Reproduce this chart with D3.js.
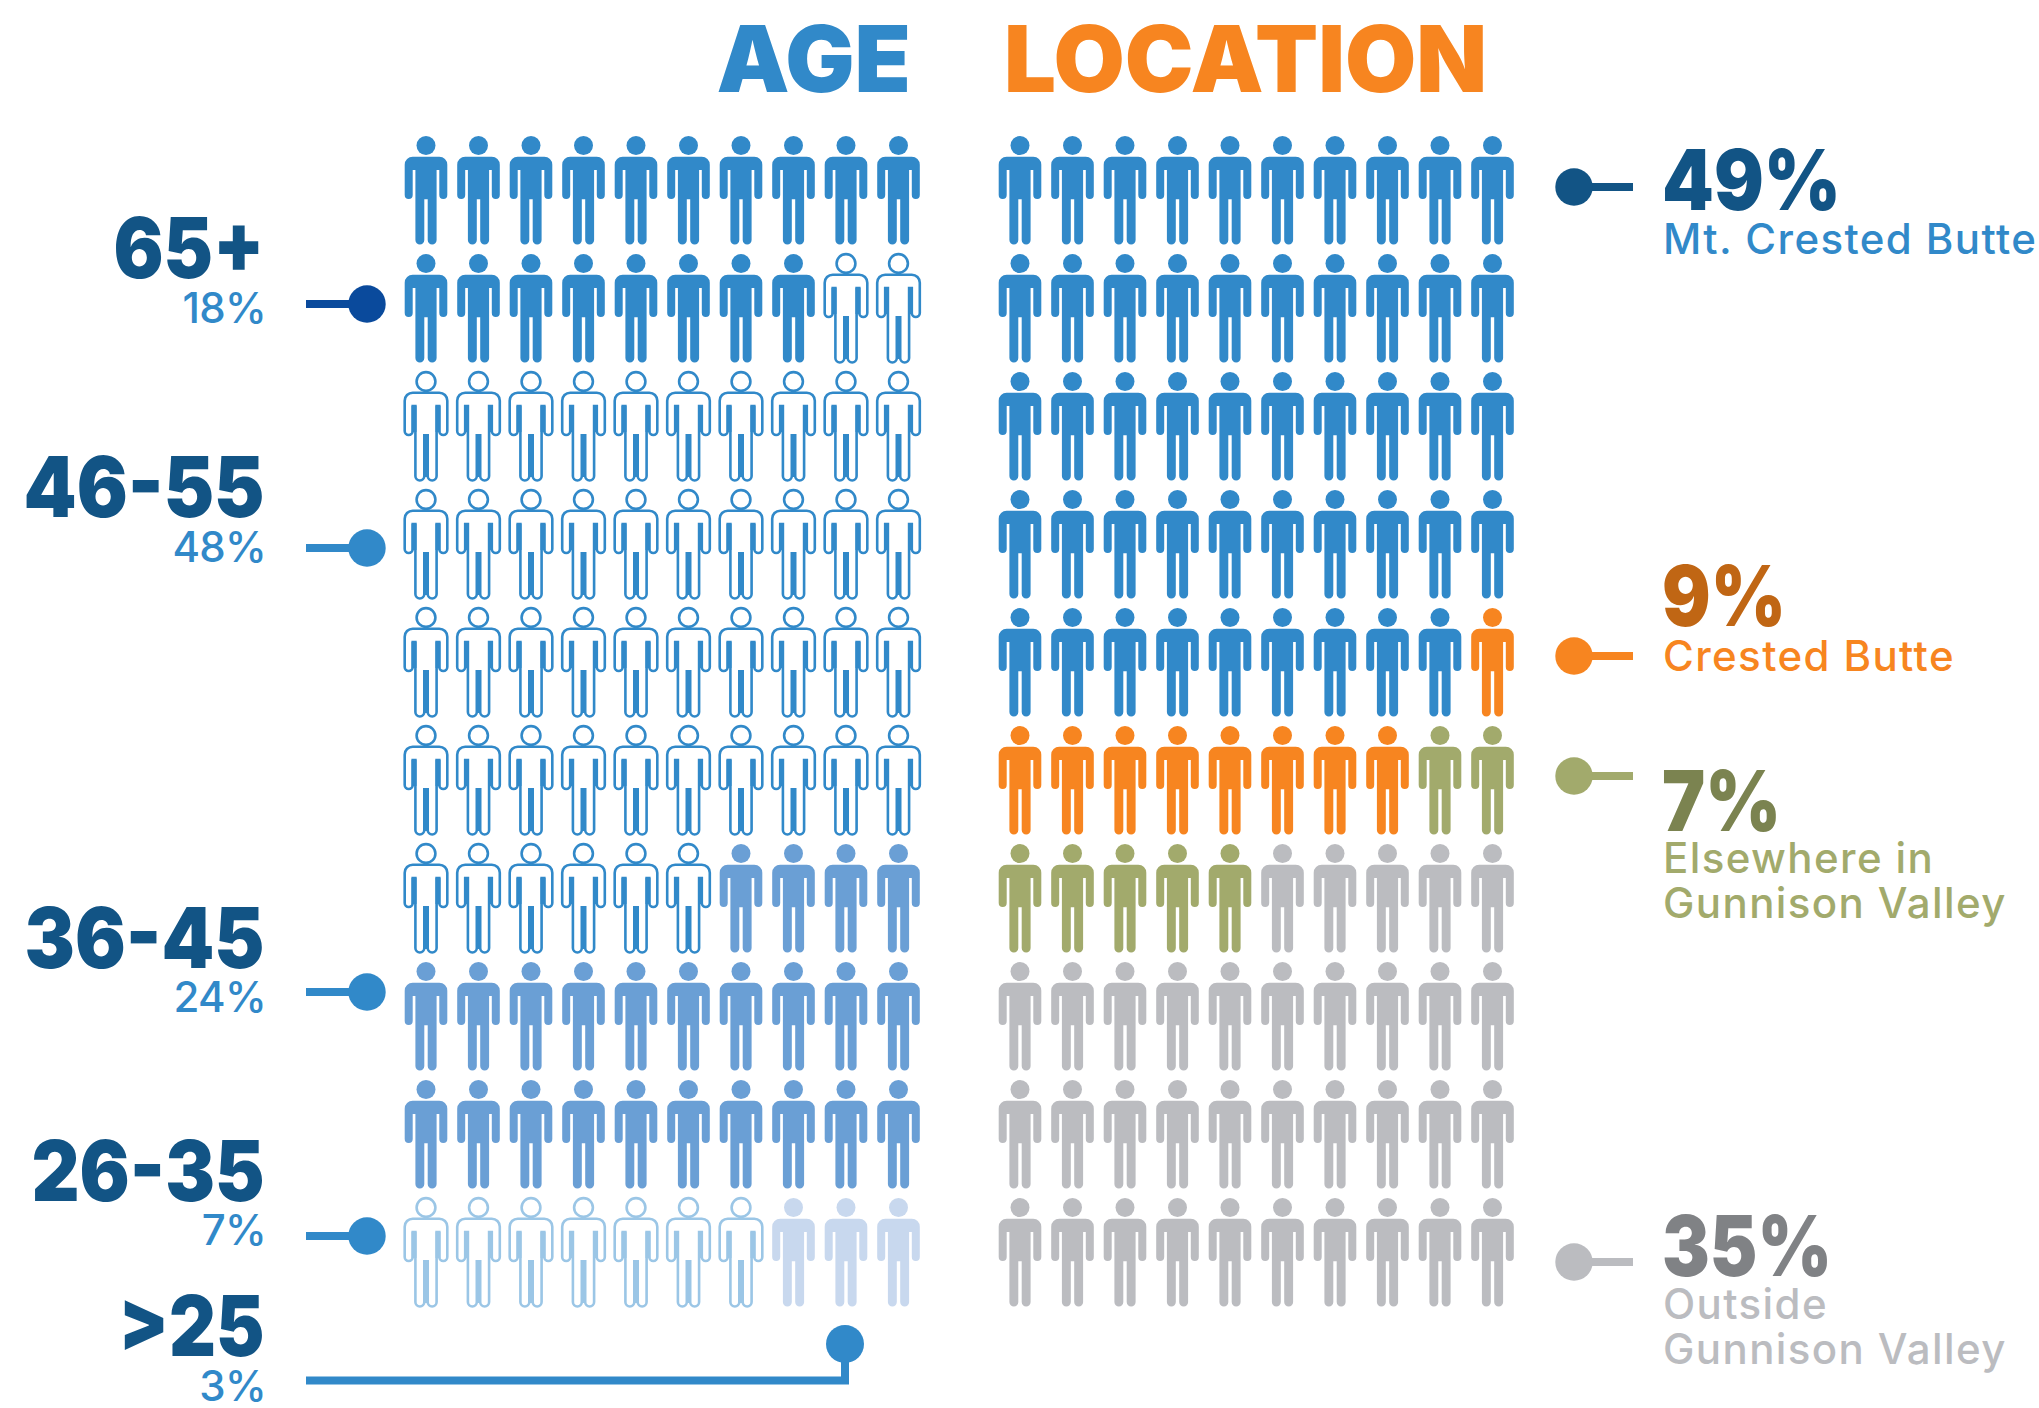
<!DOCTYPE html>
<html><head><meta charset="utf-8">
<script src="https://cdn.jsdelivr.net/npm/d3@7/dist/d3.min.js"></script>
<style>
html,body{margin:0;padding:0;background:#fff}
svg{display:block}
text{font-family:Inter,"Noto Sans",sans-serif}
</style></head><body>
<svg id="c" width="2039" height="1408"></svg>
<script>
// ---- data ----
const ageGroups   = ["65+","46-55","36-45","26-35",">25"];
const agePercents = [18,48,24,7,3];
const ageLabels   = ["18%","48%","24%","7%","3%"];
const ageIconFill = ["#3189c9","#ffffff","#6a9fd5","#ffffff","#c8d8ee"];
const ageIconLine = ["#3189c9","#3189c9","#6a9fd5","#9bc6e6","#c8d8ee"];
const ageOutlined = [false,true,false,true,false];

const locPercents = [49,9,7,35];
const locLabels   = ["49%","9%","7%","35%"];
const locNames    = [["Mt. Crested Butte"],["Crested Butte"],["Elsewhere in","Gunnison Valley"],["Outside","Gunnison Valley"]];
const locFill     = ["#3189c9","#f78520","#a2aa6c","#bbbcc0"];
const locDark     = ["#125485","#c06614","#7b8350","#808285"];
const locDot      = ["#125485","#f78520","#a2aa6c","#bbbcc0"];

const cols = d3.range(10), rows = d3.range(10);

// ---- layout ----
const svg = d3.select("#c");
const xAge = d3.scalePoint().domain(cols).range([426,898.5]);
const xLoc = d3.scalePoint().domain(cols).range([1020,1492.5]);
const y    = d3.scalePoint().domain(rows).range([136,1198]);

const BODY = "M-13.3,20.7H13.3A8,8 0 0 1 21.3,28.7V59A4,4 0 0 1 13.3,59V34H10.6V104A4.45,4.45 0 0 1 1.7,104V63.3H-1.7V104A4.45,4.45 0 0 1 -10.6,104V34H-13.3V59A4,4 0 0 1 -21.3,59V28.7A8,8 0 0 1 -13.3,20.7Z";
const GAPS = "M-12,34V60M12,34V60M0,63.3V105";

function expand(counts, f){
  const out=[]; counts.forEach((n,s)=>{for(let i=0;i<n;i++) out.push(f(s));});
  return out.map((d,i)=>({...d,col:i%10,row:Math.floor(i/10)}));
}
function drawIcons(name, people, x){
  const g = svg.append("g").attr("class",name).selectAll("g").data(people).join("g")
    .attr("transform",d=>`translate(${x(d.col)},${y(d.row)})`);
  g.append("circle").attr("cy",9.5).attr("r",d=>d.outlined?9.4:9.5)
    .attr("fill",d=>d.fill).attr("stroke",d=>d.outlined?d.line:"none").attr("stroke-width",2.6);
  g.append("path").attr("d",BODY)
    .attr("fill",d=>d.fill).attr("stroke",d=>d.outlined?d.line:"none").attr("stroke-width",2.6);
  g.filter(d=>d.outlined).append("path").attr("d",GAPS)
    .attr("fill","none").attr("stroke",d=>d.line).attr("stroke-width",5);
}
drawIcons("age", expand(agePercents,s=>({fill:ageIconFill[s],line:ageIconLine[s],outlined:ageOutlined[s]})), xAge);
drawIcons("loc", expand(locPercents,s=>({fill:locFill[s],line:locFill[s],outlined:false})), xLoc);

// titles
function title(t,x,fill,sp){
  svg.append("text").attr("x",x).attr("y",92).attr("font-size",92).attr("font-weight",900)
    .attr("letter-spacing",sp).attr("fill",fill).text(t);
}
title("AGE",716.5,"#3189c9",0);
title("LOCATION",1004,"#f78520",0);

// left labels
const ageHeadY = [278,517,968,1201,1356];
const ageHeadW = [151,241,240,233,146];
const ageSubY  = [323,562,1012,1245,1401];
const ageDotY  = [304,548,992,1236];
const ageDotC  = ["#0a4a9c","#3189c9","#3189c9","#3189c9"];
ageGroups.forEach((t,i)=>{
  svg.append("text").attr("x",264.5).attr("y",ageHeadY[i]).attr("text-anchor","end")
    .attr("textLength",ageHeadW[i]).attr("lengthAdjust","spacingAndGlyphs")
    .attr("font-size",84).attr("font-weight",900).attr("fill","#125485").text(t);
  svg.append("text").attr("x",266).attr("y",ageSubY[i]).attr("text-anchor","end")
    .attr("font-size",42).attr("font-weight",500).attr("letter-spacing",-0.7).attr("fill","#3189c9").text(ageLabels[i]);
});
ageDotY.forEach((yy,i)=>{
  svg.append("line").attr("x1",306).attr("x2",367).attr("y1",yy).attr("y2",yy).attr("stroke",ageDotC[i]).attr("stroke-width",8);
  svg.append("circle").attr("cx",367).attr("cy",yy).attr("r",18.7).attr("fill",ageDotC[i]);
});
// >25 elbow
svg.append("path").attr("d","M306,1380.5H845V1344").attr("fill","none").attr("stroke","#3189c9").attr("stroke-width",8);
svg.append("circle").attr("cx",845).attr("cy",1344).attr("r",19).attr("fill","#3189c9");

// right labels
const locHeadY = [210,626,831,1276];
const locHeadW = [179,124,119,170];
const locSubY  = [[254],[671],[873,918],[1319,1364]];
const locDotY  = [187,656,776,1262];
locLabels.forEach((t,i)=>{
  svg.append("line").attr("x1",1574).attr("x2",1633).attr("y1",locDotY[i]).attr("y2",locDotY[i]).attr("stroke",locDot[i]).attr("stroke-width",8);
  svg.append("circle").attr("cx",1574).attr("cy",locDotY[i]).attr("r",18.7).attr("fill",locDot[i]);
  svg.append("text").attr("x",1662).attr("y",locHeadY[i])
    .attr("textLength",locHeadW[i]).attr("lengthAdjust","spacingAndGlyphs")
    .attr("font-size",84).attr("font-weight",900).attr("fill",locDark[i]).text(t);
  locNames[i].forEach((n,j)=>{
    svg.append("text").attr("x",1663).attr("y",locSubY[i][j]).attr("font-size",42).attr("font-weight",550)
      .attr("letter-spacing",1.4).attr("fill",locFill[i]).text(n);
  });
});
</script>
</body></html>
